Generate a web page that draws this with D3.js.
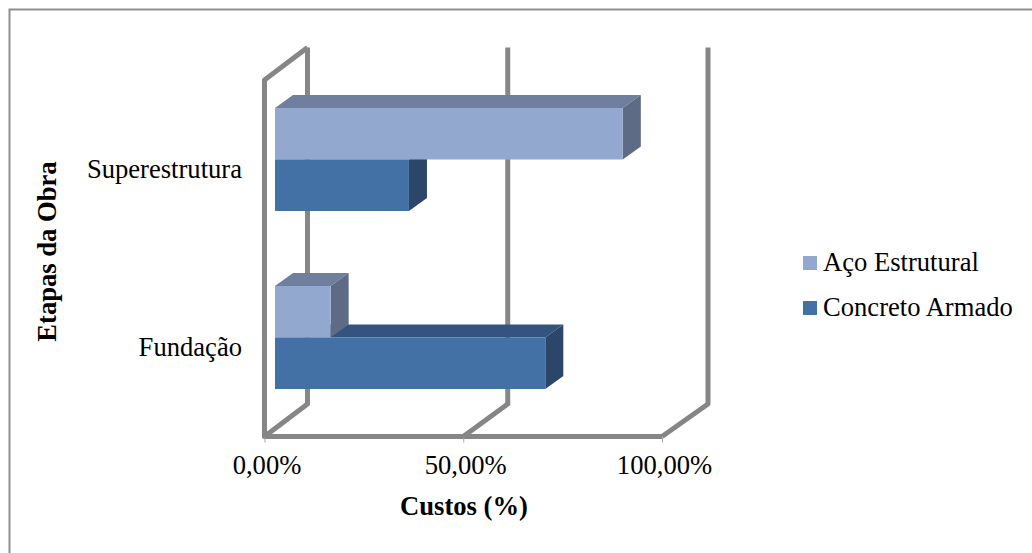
<!DOCTYPE html>
<html>
<head>
<meta charset="utf-8">
<script src="https://cdn.jsdelivr.net/npm/d3@7/dist/d3.min.js"></script>
<style>
html, body { margin: 0; padding: 0; background: #fff; }
svg { display: block; }
text { font-family: "Liberation Serif", serif; fill: #000; }
</style>
</head>
<body>
<svg id="chart" width="1032" height="553"></svg>
<script>
const categories = ["Superestrutura", "Fundação"];
const seriesNames = ["Aço Estrutural", "Concreto Armado"];
const acoEstrutural = [87.5, 14];
const concretoArmado = [33.7, 68];
const tickValues = [0, 50, 100];
const tickLabels = ["0,00%", "50,00%", "100,00%"];

const frontColors = ["#93a8cf", "#4371a5"];
const topColors = ["#6f7f9d", "#33547e"];
const sideColors = ["#5d6b84", "#2b4669"];
const wallColor = "#868686";
const fontSize = 26.6;

const svg = d3.select("#chart");

// Outer chart frame
svg.append("path")
  .attr("d", "M9.5,553V9.5H1032")
  .attr("fill", "none")
  .attr("stroke", "#8f8f8f")
  .attr("stroke-width", 2);

// Floor and wall projection: front edge and back plane have their own scales
const x = d3.scaleLinear().domain([0, 100]).range([264.5, 662]);
const xBack = d3.scaleLinear().domain([0, 100]).range([307.5, 708]);
const floorY = 436.5;
const wallTop = 80;
const backRise = 32.5;
const barInset = 10.5;
const barDepth = { dx: 18, dy: -13 };

const y = d3.scaleBand().domain(categories).range([108, 389]).paddingInner(75 / 178).paddingOuter(0);
const bandY = d3.scaleBand().domain(seriesNames).range([0, y.bandwidth()]);
const barX = v => x(v) + barInset;

const walls = svg.append("g")
  .attr("fill", "none")
  .attr("stroke", wallColor)
  .attr("stroke-width", 5)
  .attr("stroke-linejoin", "round");

tickValues.forEach(v => {
  walls.append("path")
    .attr("d", d3.line()([[x(v), floorY], [xBack(v), floorY - backRise], [xBack(v), wallTop - backRise]]));
});

// Left wall and floor front edge
walls.append("path")
  .attr("d", d3.line()([[xBack(0), wallTop - backRise], [x(0), wallTop], [x(0), floorY], [x(100), floorY]]));

// Tick marks under the floor edge, with the value axis labels
const axis = d3.axisBottom(x)
  .tickValues(tickValues)
  .tickSize(5)
  .tickFormat((d, i) => tickLabels[i]);
const axisG = svg.append("g")
  .attr("transform", `translate(0,${floorY + 1})`)
  .call(axis);
axisG.select(".domain").remove();
axisG.selectAll("line").attr("stroke", "#a6a6a6");
axisG.selectAll("text")
  .attr("font-size", fontSize)
  .attr("font-family", "Liberation Serif")
  .attr("fill", "#000")
  .attr("x", 2)
  .attr("y", 36)
  .attr("dy", 0);

// Cuboid bars: top, side, front
const bars = [];
categories.forEach((c, i) => {
  bars.push({ c, s: seriesNames[0], v: acoEstrutural[i], k: 0 });
  bars.push({ c, s: seriesNames[1], v: concretoArmado[i], k: 1 });
});
// Paint lower bars first so upper ones overlap their top faces
const order = [bars[1], bars[0], bars[3], bars[2]];
const barG = svg.append("g");
order.forEach(b => {
  const x0 = barX(0), x1 = barX(b.v);
  const y0 = y(b.c) + bandY(b.s), h = bandY.bandwidth();
  const g = barG.append("g");
  g.append("polygon").attr("fill", topColors[b.k])
    .attr("points", [[x0, y0], [x0 + barDepth.dx, y0 + barDepth.dy], [x1 + barDepth.dx, y0 + barDepth.dy], [x1, y0]].join(" "));
  g.append("polygon").attr("fill", sideColors[b.k])
    .attr("points", [[x1, y0], [x1 + barDepth.dx, y0 + barDepth.dy], [x1 + barDepth.dx, y0 + h + barDepth.dy], [x1, y0 + h]].join(" "));
  g.append("rect").attr("fill", frontColors[b.k])
    .attr("x", x0).attr("y", y0).attr("width", x1 - x0).attr("height", h);
});

// Category labels
svg.append("g").selectAll("text").data(categories).join("text")
  .attr("x", 242)
  .attr("y", d => y(d) + y.bandwidth() / 2 + 18.5)
  .attr("text-anchor", "end")
  .attr("font-size", fontSize)
  .text(d => d);

// Axis titles
svg.append("text")
  .attr("x", 464).attr("y", 515)
  .attr("text-anchor", "middle")
  .attr("font-size", fontSize).attr("font-weight", "bold")
  .text("Custos (%)");
svg.append("text")
  .attr("transform", "translate(55.5,251.5) rotate(-90)")
  .attr("text-anchor", "middle")
  .attr("font-size", fontSize).attr("font-weight", "bold")
  .text("Etapas da Obra");

// Legend
const legendY = d3.scalePoint().domain(seriesNames).range([263, 308]);
const legend = svg.append("g").selectAll("g").data(seriesNames).join("g")
  .attr("transform", d => `translate(803,${legendY(d)})`);
legend.append("rect")
  .attr("y", -7).attr("width", 14).attr("height", 14)
  .attr("fill", (d, i) => frontColors[i]);
legend.append("text")
  .attr("x", 20).attr("y", 8)
  .attr("font-size", fontSize)
  .text(d => d);
</script>
</body>
</html>
